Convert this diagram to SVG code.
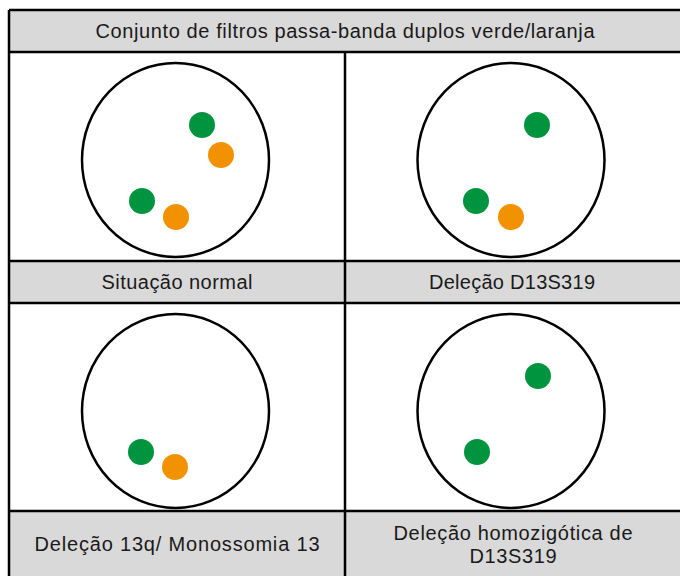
<svg xmlns="http://www.w3.org/2000/svg" width="680" height="576" viewBox="0 0 680 576">
<style>
.hdr{fill:#d9d9d9}
.grid{stroke:#000;stroke-width:2.5;fill:none}
.ring{fill:#fff;stroke:#000;stroke-width:2.5}
.g{fill:#00943f}
.o{fill:#f39200}
text{font-family:"Liberation Sans",Arial,sans-serif;font-size:20px;fill:#1a1a1a;text-anchor:middle}
</style>
<rect x="0" y="0" width="680" height="576" fill="#fff"/>
<g id="cells-bg">
<rect class="hdr" x="9" y="10" width="672" height="42"/>
<rect class="hdr" x="9" y="261" width="672" height="42"/>
<rect class="hdr" x="9" y="511" width="672" height="66"/>
</g>
<g id="grid-lines">
<path class="grid" d="M9 10H682M9 52H682M9 261H682M9 303H682M9 511H682M9 10V577M345 52V577"/>
</g>
<g id="header"><text x="345" y="38" textLength="499" lengthAdjust="spacing">Conjunto de filtros passa-banda duplos verde/laranja</text></g>
<g id="cell-normal">
<ellipse class="ring" cx="175.5" cy="160" rx="93.5" ry="97"/>
<circle class="g" cx="202" cy="125" r="13"/>
<circle class="o" cx="221" cy="155" r="13"/>
<circle class="g" cx="142" cy="201" r="13"/>
<circle class="o" cx="176" cy="217" r="13"/>
<text x="177" y="289" textLength="151" lengthAdjust="spacing">Situação normal</text>
</g>
<g id="cell-d13s319">
<ellipse class="ring" cx="511" cy="160" rx="93.5" ry="97"/>
<circle class="g" cx="537" cy="125" r="13"/>
<circle class="g" cx="476" cy="201" r="13"/>
<circle class="o" cx="511" cy="217" r="13"/>
<text x="512" y="289" textLength="166" lengthAdjust="spacing">Deleção D13S319</text>
</g>
<g id="cell-13q">
<ellipse class="ring" cx="175.5" cy="411" rx="93.5" ry="97"/>
<circle class="g" cx="141" cy="452" r="13"/>
<circle class="o" cx="175" cy="467" r="13"/>
<text x="177" y="551" textLength="285" lengthAdjust="spacing">Deleção 13q/ Monossomia 13</text>
</g>
<g id="cell-homo">
<ellipse class="ring" cx="511" cy="411" rx="93.5" ry="97"/>
<circle class="g" cx="538" cy="376" r="13"/>
<circle class="g" cx="477" cy="452" r="13"/>
<text x="513" y="540" textLength="239" lengthAdjust="spacing">Deleção homozigótica de</text>
<text x="513" y="563" textLength="87" lengthAdjust="spacing">D13S319</text>
</g>
</svg>
